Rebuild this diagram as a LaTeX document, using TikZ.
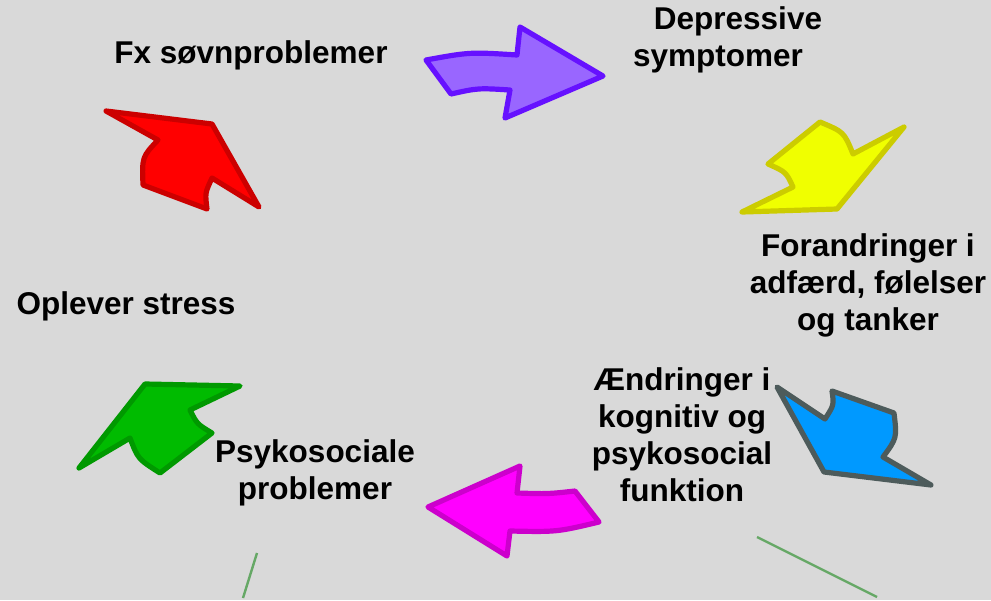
\documentclass[tikz,border=0pt]{standalone}
\usepackage{fontspec}
\setmainfont{Liberation Sans}
\definecolor{bg}{HTML}{D9D9D9}
\definecolor{pfill}{HTML}{9966FF}\definecolor{pline}{HTML}{6611FF}
\definecolor{yfill}{HTML}{F0FF00}\definecolor{yline}{HTML}{CCCC00}
\definecolor{bfill}{HTML}{0099FF}\definecolor{bline}{HTML}{4D5B5B}
\definecolor{mfill}{HTML}{FF00FF}\definecolor{mline}{HTML}{CC00CC}
\definecolor{gfill}{HTML}{00BB00}\definecolor{gline}{HTML}{009900}
\definecolor{rfill}{HTML}{FF0000}\definecolor{rline}{HTML}{CC0000}
\definecolor{thinline}{HTML}{66A866}
\begin{document}
\begin{tikzpicture}[x=1pt,y=-1pt,
  arrowshape/.style={line width=5.2pt,line join=round},
  lbl/.style={font=\fontsize{31.5}{37}\selectfont\bfseries,inner sep=0pt,align=center,text=black},
  thin/.style={draw=thinline,line width=2.4pt}]
\fill[bg] (0,0) rectangle (991,600);
\useasboundingbox (0,0) rectangle (991,600);
% purple
\draw[arrowshape,fill=pfill,draw=pline] (426,60) .. controls (470,52) .. (517,55) -- (520,27) -- (603,76) -- (505,118) -- (510,90) .. controls (478,88) .. (451,94) -- cycle;
% yellow
\draw[arrowshape,fill=yfill,draw=yline] (820,122) .. controls (844,132) .. (853,154) -- (904,127) -- (837,209) -- (742,212) -- (793,187) .. controls (786,172) .. (768,164) -- cycle;
% blue
\draw[arrowshape,fill=bfill,draw=bline] (777,387) -- (825,419) .. controls (834,405) .. (832,391) -- (894,413) .. controls (897,438) .. (883,457) -- (931,485) -- (824,472) -- cycle;
% magenta
\draw[arrowshape,fill=mfill,draw=mline] (428,507) -- (520,466) -- (517,493) .. controls (548,494) .. (575,491) -- (599,522) .. controls (557,532) .. (510,531) -- (507,556) -- cycle;
% green
\draw[arrowshape,fill=gfill,draw=gline] (145,384) -- (240,386) -- (190,410) .. controls (197,424) .. (212,433) -- (160,473) .. controls (138,459) .. (130,438) -- (79,468) -- cycle;
% red
\draw[arrowshape,fill=rfill,draw=rline] (106,111) -- (212,124) -- (259,207) -- (212,178) .. controls (205,193) .. (207,209) -- (143,185) .. controls (142,157) .. (158,140) -- cycle;
% thin lines
\coordinate (l1a) at (257,553); \coordinate (l1b) at (243,598);
\coordinate (l2a) at (757,537); \coordinate (l2b) at (877,597);
\draw[thin] (l1a) -- (l1b);
\draw[thin] (l2a) -- (l2b);
% labels
\node[lbl,anchor=base] (fx) at (251,63) {Fx søvnproblemer};
\node[lbl] (dep) at (718,40) {\hspace*{40pt}Depressive\\symptomer};
\node[lbl] (for) at (868,285) {Forandringer i\\adfærd, følelser\\og tanker};
\node[lbl] (aen) at (682,435) {Ændringer i\\kognitiv og\\psykosocial\\funktion};
\node[lbl] (psy) at (315,473) {Psykosociale\\problemer};
\node[lbl,anchor=base] (opl) at (126,314) {Oplever stress};
\end{tikzpicture}
\end{document}
